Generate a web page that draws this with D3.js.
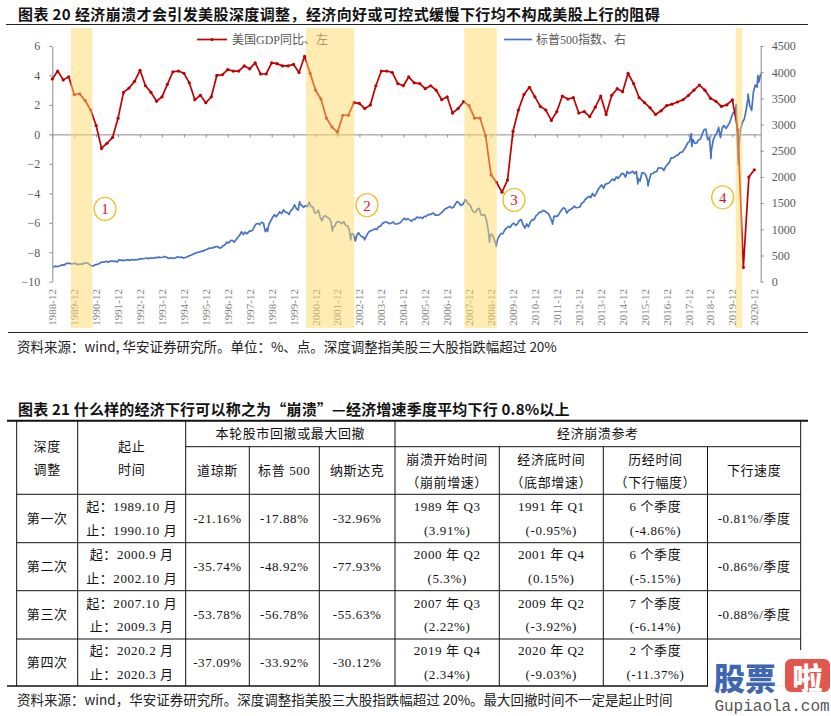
<!DOCTYPE html>
<html><head><meta charset="utf-8">
<script src="https://cdn.jsdelivr.net/npm/d3@7"></script>
<style>body{margin:0;background:#fff}svg{display:block}</style>
</head><body><svg id="c" width="831" height="716"></svg>
<script>
// ---------------- DATA ----------------
const chartTitle = "图表 20  经济崩溃才会引发美股深度调整，经济向好或可控式缓慢下行均不构成美股上行的阻碍";
const chartSource = "资料来源：wind, 华安证券研究所。单位：%、点。深度调整指美股三大股指跌幅超过 20%";
const legendNames = ["美国GDP同比、左", "标普500指数、右"];
const gdpStartYear = 1988, gdpStartQuarter = 4;
// US real GDP YoY (%), quarterly 1988Q4 .. 2020Q4
const gdpYoY = [
  3.76,
  4.3, 3.7, 3.91, 2.7,
  2.75, 2.3, 1.65, 0.6,
  -0.95, -0.6, -0.2, 1.1,
  2.85, 3.15, 3.6, 4.35,
  3.3, 2.85, 2.25, 2.55,
  3.4, 4.25, 4.3, 4.15,
  3.5, 2.35, 2.65, 2.15,
  2.55, 4.0, 4.05, 4.4,
  4.3, 4.3, 4.65, 4.45,
  4.85, 4.1, 4.1, 4.85,
  4.8, 4.65, 4.65, 4.75,
  4.2, 5.3, 4.15, 3.0,
  2.4, 1.1, 0.5, 0.15,
  1.3, 1.3, 2.15, 2.1,
  1.75, 2.0, 3.3, 4.3,
  4.3, 4.2, 3.45, 3.3,
  3.9, 3.5, 3.45, 3.1,
  3.3, 3.0, 2.35, 2.55,
  1.45, 1.75, 2.22, 1.95,
  1.1, 1.1, -0.1, -2.75,
  -3.25, -3.92, -3.1, 0.2,
  1.65, 2.7, 3.2, 2.55,
  1.9, 1.65, 0.95, 1.55,
  2.6, 2.4, 2.5, 1.45,
  1.55, 1.2, 1.85, 2.6,
  1.35, 2.65, 3.1, 2.9,
  4.15, 3.45, 2.5, 2.15,
  1.8, 1.35, 1.6, 1.95,
  2.05, 2.2, 2.35, 2.65,
  3.0, 3.35, 3.0, 2.45,
  2.25, 1.9, 2.0, 2.34,
  0.3, -9.03, -2.9, -2.4
];
const spxStartYear = 1988, spxStartMonth = 12;
// S&P 500 month-end closes, 1988-12 .. 2021-03
const spxMonthClose = [
  277.7,
  297.5, 288.9, 294.9, 309.6, 320.5, 318.0, 346.1, 351.5, 349.2, 340.4, 346.0, 353.4,
  329.1, 331.9, 339.9, 330.8, 361.2, 358.0, 356.2, 322.6, 306.1, 304.0, 322.2, 330.2,
  343.9, 367.1, 375.2, 375.3, 389.8, 371.2, 387.8, 395.4, 387.9, 392.5, 375.2, 417.1,
  408.8, 412.7, 403.7, 415.0, 415.4, 408.1, 424.2, 414.0, 417.8, 418.7, 431.4, 435.7,
  438.8, 443.4, 451.7, 440.2, 450.2, 450.5, 448.1, 463.6, 458.9, 467.8, 461.8, 466.5,
  481.6, 467.1, 445.8, 450.9, 456.5, 444.3, 458.3, 475.5, 462.7, 472.4, 453.7, 459.3,
  470.4, 487.4, 500.7, 514.7, 533.4, 544.8, 562.1, 561.9, 584.4, 581.5, 605.4, 615.9,
  636.0, 640.4, 645.5, 654.2, 669.1, 670.6, 640.0, 652.0, 687.3, 705.3, 757.0, 740.7,
  786.2, 790.8, 757.1, 801.3, 848.3, 885.1, 954.3, 899.5, 947.3, 914.6, 955.4, 970.4,
  980.3, 1049.3, 1101.8, 1111.8, 1090.8, 1133.8, 1120.7, 957.3, 1017.0, 1098.7, 1163.6, 1229.2,
  1279.6, 1238.3, 1286.4, 1335.2, 1301.8, 1372.7, 1328.7, 1320.4, 1282.7, 1362.9, 1388.9, 1469.3,
  1394.5, 1366.4, 1498.6, 1452.4, 1420.6, 1454.6, 1430.8, 1517.7, 1436.5, 1429.4, 1315.2, 1320.3,
  1366.0, 1239.9, 1160.3, 1249.5, 1255.8, 1224.4, 1211.2, 1133.6, 1040.9, 1059.8, 1139.5, 1148.1,
  1130.2, 1106.7, 1147.4, 1076.9, 1067.1, 989.8, 911.6, 916.1, 815.3, 885.8, 936.3, 879.8,
  855.7, 841.2, 848.2, 916.9, 963.6, 974.5, 990.3, 1008.0, 996.0, 1050.7, 1058.2, 1111.9,
  1131.1, 1144.9, 1126.2, 1107.3, 1120.7, 1140.8, 1101.7, 1104.2, 1114.6, 1130.2, 1173.8, 1211.9,
  1181.3, 1203.6, 1180.6, 1156.9, 1191.5, 1191.3, 1234.2, 1220.3, 1228.8, 1207.0, 1249.5, 1248.3,
  1280.1, 1280.7, 1294.8, 1310.6, 1270.1, 1270.2, 1276.7, 1303.8, 1335.9, 1377.9, 1400.6, 1418.3,
  1438.2, 1406.8, 1420.9, 1482.4, 1530.6, 1503.4, 1455.3, 1474.0, 1526.8, 1549.4, 1481.1, 1468.4,
  1378.6, 1330.6, 1322.7, 1385.6, 1400.4, 1280.0, 1267.4, 1282.8, 1166.4, 968.8, 896.2, 903.3,
  825.9, 735.1, 797.9, 872.8, 919.1, 919.3, 987.5, 1020.6, 1057.1, 1036.2, 1095.6, 1115.1,
  1073.9, 1104.5, 1169.4, 1186.7, 1089.4, 1030.7, 1101.6, 1049.3, 1141.2, 1183.3, 1180.6, 1257.6,
  1286.1, 1327.2, 1325.8, 1363.6, 1345.2, 1320.6, 1292.3, 1218.9, 1131.4, 1253.3, 1247.0, 1257.6,
  1312.4, 1365.7, 1408.5, 1397.9, 1310.3, 1362.2, 1379.3, 1406.6, 1440.7, 1412.2, 1416.2, 1426.2,
  1498.1, 1514.7, 1569.2, 1597.6, 1630.7, 1606.3, 1685.7, 1633.0, 1681.6, 1756.5, 1805.8, 1848.4,
  1782.6, 1859.5, 1872.3, 1884.0, 1923.6, 1960.2, 1930.7, 2003.4, 1972.3, 2018.1, 2067.6, 2058.9,
  1995.0, 2104.5, 2067.9, 2085.5, 2107.4, 2063.1, 2103.8, 1972.2, 1920.0, 2079.4, 2080.4, 2043.9,
  1940.2, 1932.2, 2059.7, 2065.3, 2097.0, 2098.9, 2173.6, 2171.0, 2168.3, 2126.2, 2198.8, 2238.8,
  2278.9, 2363.6, 2362.7, 2384.2, 2411.8, 2423.4, 2470.3, 2471.7, 2519.4, 2575.3, 2647.6, 2673.6,
  2823.8, 2713.8, 2640.9, 2648.1, 2705.3, 2718.4, 2816.3, 2901.5, 2914.0, 2711.7, 2760.2, 2506.9,
  2704.1, 2784.5, 2834.4, 2945.8, 2752.1, 2941.8, 2980.4, 2926.5, 2976.7, 3037.6, 3141.0, 3230.8,
  3225.5, 2954.2, 2584.6, 2912.4, 3044.3, 3100.3, 3271.1, 3500.3, 3363.0, 3270.0, 3621.6, 3756.1,
  3714.2, 3811.2, 3972.9
];
// intra-month extremes visible in the daily series
const spxIntraMonth = [
  ["1990-10-11", 295.5], ["1998-10-08", 959.4], ["2000-03-24", 1527.5], ["2001-09-21", 965.8],
  ["2002-07-23", 797.7], ["2002-10-09", 776.8], ["2003-03-11", 800.7], ["2007-10-09", 1565.2],
  ["2008-11-20", 752.4], ["2009-03-09", 676.5], ["2010-07-02", 1022.6], ["2011-10-03", 1099.2],
  ["2015-08-25", 1867.6], ["2016-02-11", 1829.1], ["2018-02-08", 2581.0], ["2018-12-24", 2351.1],
  ["2020-02-19", 3386.2], ["2020-03-23", 2237.4], ["2020-09-02", 3580.8], ["2021-02-12", 3934.8]
];
const crashBands = [
  ["1989-10-20", "1990-10-12"],
  ["2000-07-10", "2002-09-20"],
  ["2007-09-26", "2009-03-19"],
  ["2020-02-08", "2020-05-28"]
];
const bandMarks = ["1", "2", "3", "4"];
const bandMarkAnchor = [["1991-05-12", -5.06], ["2003-04-20", -4.8], ["2009-12-31", -4.45], ["2019-07-07", -4.27]];
const leftTicks = [-10, -8, -6, -4, -2, 0, 2, 4, 6];
const rightTicks = [0, 500, 1000, 1500, 2000, 2500, 3000, 3500, 4000, 4500];
const xTickYears = d3.range(1988, 2021);

const tableTitle = "图表 21  什么样的经济下行可以称之为“崩溃”—经济增速季度平均下行 0.8%以上";
const tableSource = "资料来源：wind，华安证券研究所。深度调整指美股三大股指跌幅超过 20%。最大回撤时间不一定是起止时间";
const headGroup = ["本轮股市回撤或最大回撤", "经济崩溃参考"];
const headCols = [["深度", "调整"], ["起止", "时间"], ["道琼斯"], ["标普 500"], ["纳斯达克"],
  ["崩溃开始时间", "（崩前增速）"], ["经济底时间", "（底部增速）"], ["历经时间", "（下行幅度）"], ["下行速度"]];
const rowNames = ["第一次", "第二次", "第三次", "第四次"];
const rowPeriods = [["起：1989.10 月", "止：1990.10 月"], ["起：2000.9 月", "止：2002.10 月"],
  ["起：2007.10 月", "止：2009.3 月"], ["起：2020.2 月", "止：2020.3 月"]];
const rowDow = ["-21.16%", "-35.74%", "-53.78%", "-37.09%"];
const rowSpx = ["-17.88%", "-48.92%", "-56.78%", "-33.92%"];
const rowNasdaq = ["-32.96%", "-77.93%", "-55.63%", "-30.12%"];
const rowStart = [["1989 年 Q3", "(3.91%)"], ["2000 年 Q2", "(5.3%)"], ["2007 年 Q3", "(2.22%)"], ["2019 年 Q4", "(2.34%)"]];
const rowBottom = [["1991 年 Q1", "(-0.95%)"], ["2001 年 Q4", "(0.15%)"], ["2009 年 Q2", "(-3.92%)"], ["2020 年 Q2", "(-9.03%)"]];
const rowDuration = [["6 个季度", "(-4.86%)"], ["6 个季度", "(-5.15%)"], ["7 个季度", "(-6.14%)"], ["2 个季度", "(-11.37%)"]];
const rowSpeed = ["-0.81%/季度", "-0.86%/季度", "-0.88%/季度", ""];

// ---------------- DRAW ----------------
const svg = d3.select("#c");
svg.append("rect").attr("width", 831).attr("height", 716).attr("fill", "#fff");
const CJK = "'Noto Sans CJK SC', sans-serif";
const SERIF = "'Liberation Serif', 'Noto Sans CJK SC', serif";
const pd = d3.timeParse("%Y-%m-%d");

// title
svg.append("text").attr("x", 18).attr("y", 13).attr("dominant-baseline", "central")
  .attr("font-family", CJK).attr("font-weight", 700).attr("font-size", 15).attr("letter-spacing", 0.4)
  .attr("fill", "#111").text(chartTitle);
svg.append("line").attr("x1", 6).attr("x2", 808).attr("y1", 24.5).attr("y2", 24.5).attr("stroke", "#222").attr("stroke-width", 1.2);

// scales
const x = d3.scaleTime().domain([new Date(1988, 11, 15), new Date(2021, 2, 31)]).range([52.3, 760.7]);
const yL = d3.scaleLinear().domain([-10, 6]).range([281.7, 46]);
const yR = d3.scaleLinear().domain([0, 4500]).range([281.7, 46]);
const axisCol = "#8c8c8c", labelCol = "#595959";

// left axis
const gL = svg.append("g").attr("transform", "translate(52.3,0)")
  .call(d3.axisLeft(yL).tickValues(leftTicks).tickSize(3).tickSizeOuter(0).tickPadding(9).tickFormat(d3.format("d")));
// right axis
const gR = svg.append("g").attr("transform", "translate(760.7,0)")
  .call(d3.axisRight(yR).tickValues(rightTicks).tickSize(3).tickSizeOuter(0).tickPadding(8).tickFormat(d3.format("d")));
[gL, gR].forEach(g => {
  g.select(".domain").attr("stroke", axisCol);
  g.selectAll(".tick line").attr("stroke", axisCol);
  g.selectAll(".tick text").attr("font-family", SERIF).attr("font-size", 12).attr("fill", labelCol);
});
// zero line with year ticks
const tickDates = xTickYears.map(yv => new Date(yv, 11, 15));
const gX = svg.append("g").attr("transform", `translate(0,${yL(0)})`)
  .call(d3.axisBottom(x).tickValues(tickDates).tickSize(3).tickSizeOuter(0).tickFormat(""));
gX.select(".domain").attr("stroke", axisCol);
gX.selectAll(".tick line").attr("stroke", axisCol);
// x labels at bottom (rotated)
svg.append("g").selectAll("text").data(tickDates).join("text")
  .attr("transform", d => `translate(${x(d)},289) rotate(-90)`)
  .attr("text-anchor", "end").attr("dominant-baseline", "central")
  .attr("font-family", SERIF).attr("font-size", 11).attr("fill", "#7f7f7f")
  .text(d => d3.timeFormat("%Y-%m")(d));

// S&P series
const spx = spxMonthClose.map((v, i) => ({ date: new Date(spxStartYear, spxStartMonth - 1 + i + 1, 0), v }))
  .concat(spxIntraMonth.map(d => ({ date: pd(d[0]), v: d[1] })))
  .sort((a, b) => a.date - b.date);
svg.append("path").datum(spx).attr("fill", "none").attr("stroke", "#4472C4").attr("stroke-width", 1.7)
  .attr("stroke-linejoin", "round")
  .attr("d", d3.line().x(d => x(d.date)).y(d => yR(d.v)));

// GDP series
const gdp = gdpYoY.map((v, i) => {
  const q = gdpStartQuarter - 1 + i;
  return { date: new Date(gdpStartYear + Math.floor(q / 4), (q % 4) * 3 + 2, 15), v };
});
svg.append("path").datum(gdp).attr("fill", "none").attr("stroke", "#C00000").attr("stroke-width", 1.7)
  .attr("stroke-linejoin", "round")
  .attr("d", d3.line().x(d => x(d.date)).y(d => yL(d.v)));
svg.append("g").selectAll("circle").data(gdp).join("circle")
  .attr("cx", d => x(d.date)).attr("cy", d => yL(d.v)).attr("r", 1.6).attr("fill", "#C00000");

// legend
const lg = svg.append("g");
lg.append("line").attr("x1", 197).attr("x2", 227).attr("y1", 39.5).attr("y2", 39.5).attr("stroke", "#C00000").attr("stroke-width", 1.7);
lg.append("circle").attr("cx", 212).attr("cy", 39.5).attr("r", 1.6).attr("fill", "#C00000");
lg.append("text").attr("x", 232).attr("y", 39.5).attr("dominant-baseline", "central")
  .attr("font-family", SERIF).attr("font-size", 12).attr("fill", labelCol).text(legendNames[0]);
lg.append("line").attr("x1", 504).attr("x2", 532).attr("y1", 39.5).attr("y2", 39.5).attr("stroke", "#4472C4").attr("stroke-width", 1.7);
lg.append("text").attr("x", 536).attr("y", 39.5).attr("dominant-baseline", "central")
  .attr("font-family", SERIF).attr("font-size", 12).attr("fill", labelCol).text(legendNames[1]);

// crash bands (translucent overlay)
svg.append("g").selectAll("rect").data(crashBands).join("rect")
  .attr("x", d => x(pd(d[0]))).attr("width", d => x(pd(d[1])) - x(pd(d[0])))
  .attr("y", 28).attr("height", 300)
  .attr("fill", "#FFD966").attr("fill-opacity", 0.5);

// circled numbers
const cm = svg.append("g").selectAll("g").data(bandMarks).join("g")
  .attr("transform", (d, i) => `translate(${x(pd(bandMarkAnchor[i][0]))},${yL(bandMarkAnchor[i][1])})`);
cm.append("ellipse").attr("rx", 11).attr("ry", 11.5).attr("fill", "#fff").attr("stroke", "#F0BE28").attr("stroke-width", 1.3);
cm.append("text").attr("text-anchor", "middle").attr("dominant-baseline", "central").attr("y", 0.5)
  .attr("font-family", SERIF).attr("font-size", 15).attr("fill", "#E0141E").text(d => d);

// chart source
svg.append("line").attr("x1", 8).attr("x2", 808).attr("y1", 332.5).attr("y2", 332.5).attr("stroke", "#222").attr("stroke-width", 1.2);
svg.append("text").attr("x", 17).attr("y", 346).attr("dominant-baseline", "central")
  .attr("font-family", CJK).attr("font-size", 13.5).attr("fill", "#222").text(chartSource);

// ---------------- TABLE ----------------
svg.append("text").attr("x", 18).attr("y", 408).attr("dominant-baseline", "central")
  .attr("font-family", CJK).attr("font-weight", 700).attr("font-size", 15).attr("letter-spacing", 0.2)
  .attr("fill", "#111").text(tableTitle);
const cx = [16.7, 77.7, 185.7, 249.3, 319.3, 395, 499.3, 603.3, 707.5, 800.7];
const ry = [420.7, 446.7, 494.3, 542.7, 590.7, 639, 686];
const tg = svg.append("g").attr("stroke", "#111").attr("stroke-width", 1);
// horizontal lines
tg.append("line").attr("x1", 7).attr("x2", 808).attr("y1", ry[0]).attr("y2", ry[0]).attr("stroke-width", 2);
tg.append("line").attr("x1", cx[2]).attr("x2", cx[9]).attr("y1", ry[1]).attr("y2", ry[1]);
[2, 3, 4, 5].forEach(k => tg.append("line").attr("x1", cx[0]).attr("x2", cx[9]).attr("y1", ry[k]).attr("y2", ry[k]));
tg.append("line").attr("x1", 7).attr("x2", 808).attr("y1", ry[6]).attr("y2", ry[6]).attr("stroke-width", 1.6);
// vertical lines
cx.forEach((xv, k) => {
  const top = (k === 3 || k === 4 || k === 6 || k === 7 || k === 8) ? ry[1] : ry[0];
  tg.append("line").attr("x1", xv).attr("x2", xv).attr("y1", top).attr("y2", ry[6]);
});
const cellText = (t, xm, ym) => svg.append("text").attr("x", xm).attr("y", ym)
  .attr("text-anchor", "middle").attr("dominant-baseline", "central")
  .attr("font-family", SERIF).attr("font-size", 13).attr("letter-spacing", 0.6).attr("fill", "#111").text(t);
const mid = k => (cx[k] + cx[k + 1]) / 2;
cellText(headGroup[0], (cx[2] + cx[5]) / 2, (ry[0] + ry[1]) / 2);
cellText(headGroup[1], (cx[5] + cx[9]) / 2, (ry[0] + ry[1]) / 2);
headCols.forEach((lines, k) => {
  const top = (k <= 1) ? ry[0] : ry[1];
  const ym = (top + ry[2]) / 2 + (k <= 1 ? 0 : 0);
  if (lines.length === 1) cellText(lines[0], mid(k), ym);
  else if (k <= 1) { cellText(lines[0], mid(k), ym - 11.5); cellText(lines[1], mid(k), ym + 12); }
  else { cellText(lines[0], mid(k), ym - 11.5); cellText(lines[1], mid(k), ym + 12); }
});
rowNames.forEach((name, r) => {
  const ym = (ry[2 + r] + ry[3 + r]) / 2;
  cellText(name, mid(0), ym);
  cellText(rowPeriods[r][0], mid(1), ym - 11.8); cellText(rowPeriods[r][1], mid(1), ym + 11.8);
  cellText(rowDow[r], mid(2), ym);
  cellText(rowSpx[r], mid(3), ym);
  cellText(rowNasdaq[r], mid(4), ym);
  [rowStart, rowBottom, rowDuration].forEach((arr, j) => {
    cellText(arr[r][0], mid(5 + j), ym - 11.8); cellText(arr[r][1], mid(5 + j), ym + 11.8);
  });
  if (rowSpeed[r]) cellText(rowSpeed[r], mid(8), ym);
});
svg.append("text").attr("x", 17).attr("y", 699).attr("dominant-baseline", "central")
  .attr("font-family", CJK).attr("font-size", 13.5).attr("fill", "#222").text(tableSource);

// watermark
const wm = svg.append("g");
wm.append("rect").attr("x", 708).attr("y", 650).attr("width", 123).attr("height", 66).attr("fill", "#fff").attr("fill-opacity", 0.95);
wm.append("text").attr("x", 714).attr("y", 676).attr("dominant-baseline", "central")
  .attr("font-family", CJK).attr("font-weight", 900).attr("font-size", 31).attr("fill", "#3F67B1").text("股票");
wm.append("rect").attr("x", 785).attr("y", 659).attr("width", 45).attr("height", 33).attr("rx", 6).attr("fill", "#E2574C");
wm.append("text").attr("x", 807.5).attr("y", 676).attr("text-anchor", "middle").attr("dominant-baseline", "central")
  .attr("font-family", CJK).attr("font-weight", 900).attr("font-size", 30).attr("fill", "#fff").text("啦");
wm.append("text").attr("x", 772).attr("y", 707).attr("text-anchor", "middle").attr("dominant-baseline", "central")
  .attr("font-family", "'Liberation Mono', monospace").attr("font-size", 16).attr("fill", "#555").text("Gupiaola.com");
</script></body></html>
